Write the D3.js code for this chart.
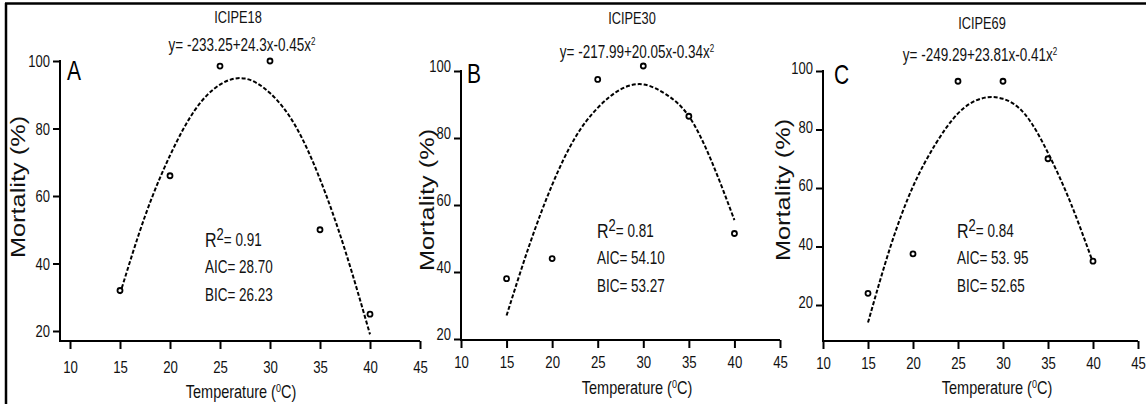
<!DOCTYPE html>
<html>
<head>
<meta charset="utf-8">
<script src="https://cdn.jsdelivr.net/npm/d3@7"></script>
<style>
  body { margin: 0; background: #fff; }
  svg { display: block; font-family: "Liberation Sans", Arial, sans-serif; }
</style>
</head>
<body>
<svg id="chart" width="1146" height="404"></svg>
<script>
// observed points
const temps = [15, 20, 25, 30, 35, 40];
const mortA = [32, 66, 98.5, 100, 50, 25];
const mortB = [38, 44, 97.5, 101.5, 86.5, 51.5];
const mortC = [24, 37.5, 96.5, 96.5, 70, 35];

// fitted curves
const fitTemps = [15, 17.5, 20, 22.5, 25, 27.5, 30, 32.5, 35, 37.5, 40];
const fitA = [31, 54, 72, 85.5, 93, 94.8, 90.5, 81, 65, 44, 19];
const fitB = [27, 48, 66, 80, 89, 94.5, 96, 93, 86.5, 73, 55.5];
const fitC = [14, 40, 60.5, 75, 85.5, 90.5, 90.5, 85, 72, 55, 34.5];

const xTicks = [10, 15, 20, 25, 30, 35, 40, 45];
const yTicks = [20, 40, 60, 80, 100];
const names = ["ICIPE18", "ICIPE30", "ICIPE69"];
const letters = ["A", "B", "C"];
const equations = ["y= -233.25+24.3x-0.45x", "y= -217.99+20.05x-0.34x", "y= -249.29+23.81x-0.41x"];
const r2 = ["0.91", "0.81", "0.84"];
const aic = ["28.70", "54.10", "53. 95"];
const bic = ["26.23", "53.27", "52.65"];

const S = 1.3; // the source image is stretched vertically

const panels = [
  { pts: mortA, fit: fitA, x0: 70, x1: 420, axisX: 60, axisY: 341, y20: 331, y100: 61, labDy: 0,
    title: [238, 17], eq: [242, 45], letter: [67, 70], stats: [205, 240], ytitle: [18, 187], xtitle: [241, 391], tickLab: 26 },
  { pts: mortB, fit: fitB, x0: 461, x1: 780, axisX: 461, axisY: 340, y20: 339, y100: 71, labDy: -5,
    title: [632, 18], eq: [637, 52], letter: [467, 73], stats: [597, 231], ytitle: [427, 200], xtitle: [637, 387], tickLab: 22 },
  { pts: mortC, fit: fitC, x0: 823, x1: 1138, axisX: 823, axisY: 341, y20: 305, y100: 71, labDy: -3,
    title: [982, 23], eq: [980, 55], letter: [834, 74], stats: [957, 231], ytitle: [783, 190], xtitle: [997, 387], tickLab: 22 }
];

const svg = d3.select("#chart");

// frame
svg.append("line").attr("x1", 5).attr("x2", 1146).attr("y1", 3.5).attr("y2", 3.5)
  .attr("stroke", "#000").attr("stroke-width", 2.5);
svg.append("line").attr("x1", 6).attr("x2", 6).attr("y1", 3).attr("y2", 404)
  .attr("stroke", "#000").attr("stroke-width", 2.5);

function label(g, x, y, txt, size, anchor) {
  return g.append("text")
    .attr("transform", `translate(${x},${y}) scale(1,${S})`)
    .attr("dy", "0.35em")
    .attr("text-anchor", anchor || "middle")
    .attr("font-size", size)
    .attr("fill", "#111")
    .text(txt);
}

panels.forEach((p, i) => {
  const g = svg.append("g");
  const x = d3.scaleLinear().domain([10, 45]).range([p.x0, p.x1]);
  const y = d3.scaleLinear().domain([20, 100]).range([p.y20, p.y100]);

  // x axis
  const gx = g.append("g")
    .attr("transform", `translate(0,${p.axisY})`)
    .call(d3.axisBottom(x).tickValues(xTicks).tickSize(8).tickSizeOuter(0));
  gx.select(".domain").remove();
  gx.selectAll("line").attr("stroke", "#000").attr("stroke-width", 2);
  gx.selectAll("text")
    .attr("y", null).attr("dy", "0.35em")
    .attr("transform", `translate(0,${p.tickLab}) scale(1,${S})`)
    .attr("font-size", 13.2).attr("fill", "#111");

  // y axis
  const gy = g.append("g")
    .attr("transform", `translate(${p.axisX},0)`)
    .call(d3.axisLeft(y).tickValues(yTicks).tickSize(7).tickSizeOuter(0));
  gy.select(".domain").remove();
  gy.selectAll("line").attr("stroke", "#000").attr("stroke-width", 2);
  gy.selectAll("text")
    .attr("x", null).attr("dy", "0.35em")
    .attr("transform", `translate(-10,${p.labDy}) scale(1,${S})`)
    .attr("font-size", 13).attr("fill", "#111");

  // axis lines
  g.append("line").attr("x1", p.axisX).attr("x2", p.x1)
    .attr("y1", p.axisY).attr("y2", p.axisY)
    .attr("stroke", "#000").attr("stroke-width", 2);
  g.append("line").attr("x1", p.axisX).attr("x2", p.axisX)
    .attr("y1", p.axisY + 1).attr("y2", y(100) - 1)
    .attr("stroke", "#000").attr("stroke-width", 2);

  // fitted curve
  const line = d3.line()
    .x((d, j) => x(fitTemps[j]))
    .y((d) => y(d))
    .curve(d3.curveNatural);
  g.append("path")
    .attr("d", line(p.fit))
    .attr("fill", "none")
    .attr("stroke", "#000")
    .attr("stroke-width", 2)
    .attr("stroke-dasharray", "4 2");

  // points
  g.selectAll(".pt")
    .data(p.pts)
    .enter()
    .append("circle")
    .attr("class", "pt")
    .attr("cx", (d, j) => x(temps[j]))
    .attr("cy", (d) => y(d))
    .attr("r", 2.5)
    .attr("fill", "#fff")
    .attr("stroke", "#000")
    .attr("stroke-width", 1.8);

  // titles
  label(g, p.title[0], p.title[1], names[i], 12.8);
  const eq = label(g, p.eq[0], p.eq[1], equations[i], 13.5);
  eq.append("tspan").attr("font-size", 8).attr("dy", "-0.6em").text("2");

  g.append("text")
    .attr("transform", `translate(${p.letter[0]},${p.letter[1]}) scale(1,${S})`)
    .attr("dy", "0.35em")
    .attr("font-size", 21)
    .attr("fill", "#000")
    .text(letters[i]);

  // stats
  const r = g.append("text")
    .attr("transform", `translate(${p.stats[0]},${p.stats[1]}) scale(1,${S})`)
    .attr("dy", "0.35em")
    .attr("font-size", 16)
    .attr("fill", "#111");
  r.append("tspan").text("R");
  r.append("tspan").attr("font-size", 13).attr("dy", "-0.45em").text("2");
  r.append("tspan").attr("font-size", 13.5).attr("dy", "0.35em").text("= " + r2[i]);
  label(g, p.stats[0], p.stats[1] + 27, "AIC= " + aic[i], 13.5, "start");
  label(g, p.stats[0], p.stats[1] + 55, "BIC= " + bic[i], 13.5, "start");

  // axis titles
  const xt = label(g, p.xtitle[0], p.xtitle[1], "Temperature (", 14.5);
  xt.append("tspan").attr("font-size", 9).attr("dy", "-0.5em").text("0");
  xt.append("tspan").attr("dy", "0.33em").text("C)");

  g.append("text")
    .attr("transform", `translate(${p.ytitle[0]},${p.ytitle[1]}) rotate(-90) scale(${S},1)`)
    .attr("dy", "0.35em")
    .attr("text-anchor", "middle")
    .attr("font-size", 19.5)
    .attr("fill", "#111")
    .text("Mortality (%)");
});
</script>
</body>
</html>
